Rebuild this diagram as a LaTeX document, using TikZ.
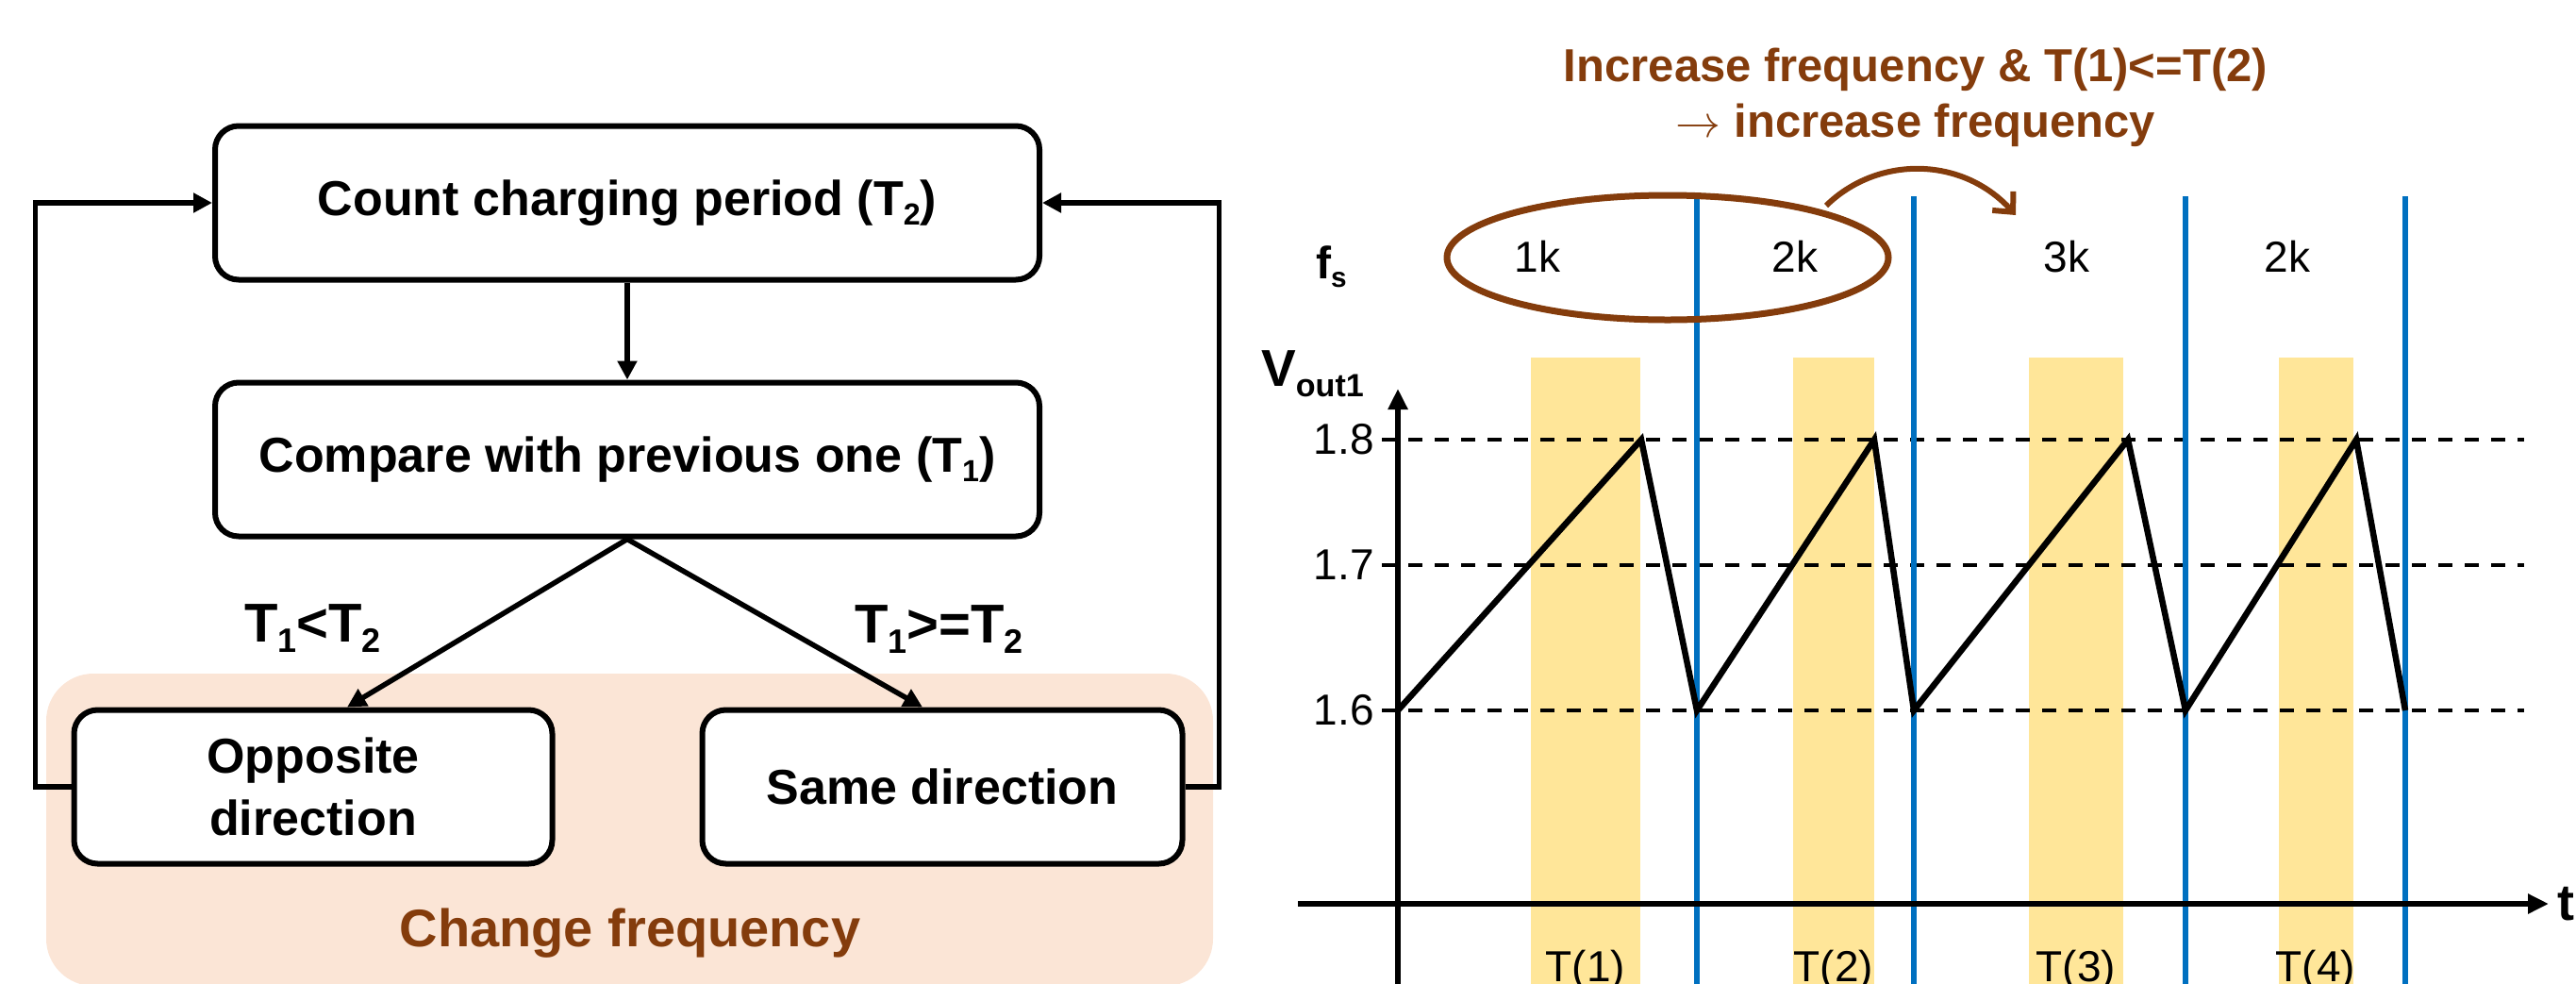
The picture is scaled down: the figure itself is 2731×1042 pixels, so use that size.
\documentclass[tikz,border=0pt]{standalone}
\usepackage{fontspec}
\usepackage{graphicx}
\setmainfont{Liberation Sans}
\usetikzlibrary{arrows.meta}
\definecolor{brownc}{HTML}{843C0C}
\definecolor{pinkc}{HTML}{FBE5D6}
\definecolor{goldc}{HTML}{FFE699}
\definecolor{bluec}{HTML}{0070C0}
\newcommand{\mysub}[1]{\raisebox{-0.2em}{\scalebox{0.62}{#1}}}
\newcommand{\bigarrow}{\scalebox{4.8}{\fontsize{10}{12}\selectfont$\rightarrow$}}
\begin{document}
\begin{tikzpicture}[x=1pt,y=-1pt,
  box/.style={draw, line width=6pt, rounded corners=25pt, fill=white, align=center,
    inner sep=0pt, minimum height=163pt, font=\fontsize{52}{66}\selectfont\bfseries},
  conn/.style={line width=5.5pt, -{Triangle[length=20pt,width=20pt]}},
  lbl/.style={font=\fontsize{58}{66}\selectfont\bfseries, anchor=base west, inner sep=0pt},
  num/.style={font=\fontsize{46}{54}\selectfont, inner sep=0pt},
  axis/.style={line width=6pt, -{Triangle[length=22pt,width=20pt]}},
  dashln/.style={line width=4pt, dash pattern=on 15pt off 13pt},
  blueln/.style={bluec, line width=6pt},
  ttl/.style={brownc, font=\fontsize{49}{59}\selectfont\bfseries, anchor=base, inner sep=0pt}
]
\useasboundingbox (0,0) rectangle (2731,1042);

% ---------- left: flowchart ----------
\fill[pinkc, rounded corners=50pt] (49,714) rectangle (1286,1045);
\node[brownc, font=\fontsize{56}{66}\selectfont\bfseries, anchor=base, inner sep=0pt] (chg) at (668,1003) {Change frequency};

\node[box, minimum width=874pt] (count) at (665,215) {Count charging period (T\mysub{2})};
\node[box, minimum width=874pt] (cmp) at (665,487) {Compare with previous one (T\mysub{1})};
\node[box, minimum width=507pt] (opp) at (332,834) {Opposite\\direction};
\node[box, minimum width=509pt] (same) at (999,834) {Same direction};

\draw[conn] (count) -- (cmp);
\draw[conn] (cmp.south) -- ([xshift=36pt]opp.north);
\draw[conn] (cmp.south) -- ([xshift=-21pt]same.north);
\draw[conn] (opp.west) -- ++(-38,0) |- (count.west);
\draw[conn] (same.east) -- ++(36,0) |- (count.east);

\node[lbl] (lt) at (259,680) {T\mysub{1}<T\mysub{2}};
\node[lbl] (ge) at (906,681) {T\mysub{1}>=T\mysub{2}};

% ---------- right: waveform ----------
\fill[goldc] (1623,379) rectangle (1739,1045);
\fill[goldc] (1901,379) rectangle (1987,1045);
\fill[goldc] (2151,379) rectangle (2251,1045);
\fill[goldc] (2416,379) rectangle (2495,1045);

\draw[dashln] (1465,466) -- (2676,466);
\draw[dashln] (1465,599) -- (2676,599);
\draw[dashln] (1465,753) -- (2676,753);

\draw[blueln] (1799,208) -- (1799,1045);
\draw[blueln] (2029,208) -- (2029,1045);
\draw[blueln] (2317,208) -- (2317,1045);
\draw[blueln] (2550,208) -- (2550,1045);

\draw[line width=6.5pt] (1482,753) -- (1740,466) -- (1799,753) -- (1987,466) -- (2029,753)
  -- (2256,466) -- (2317,753) -- (2498,466) -- (2550,753);

\draw[axis] (1482,1045) -- (1482,412);
\draw[axis] (1376,958) -- (2702,958);

\node[font=\fontsize{54}{60}\selectfont\bfseries, anchor=west, inner sep=0pt] (tl) at (2711,958) {t};
\node[font=\fontsize{55}{60}\selectfont\bfseries, anchor=base west, inner sep=0pt] (vl) at (1337,409) {V\mysub{out1}};
\node[font=\fontsize{48}{60}\selectfont\bfseries, anchor=base west, inner sep=0pt] (fl) at (1395,295) {f\mysub{s}};

\node[num, anchor=east] (v18) at (1457,466) {1.8};
\node[num, anchor=east] (v17) at (1457,599) {1.7};
\node[num, anchor=east] (v16) at (1457,753) {1.6};

\node[num] (f1) at (1630,272) {1k};
\node[num] (f2) at (1903,272) {2k};
\node[num] (f3) at (2191,272) {3k};
\node[num] (f4) at (2425,272) {2k};

\node[num, anchor=base] (t1) at (1681,1040) {T(1)};
\node[num, anchor=base] (t2) at (1944,1040) {T(2)};
\node[num, anchor=base] (t3) at (2201,1040) {T(3)};
\node[num, anchor=base] (t4) at (2455,1040) {T(4)};

\draw[brownc, line width=7pt] (1768,273) ellipse [x radius=234pt, y radius=66pt];
\draw[brownc, line width=6pt, -{Straight Barb[length=16pt,width=30pt]}]
  (1936,218) .. controls (1990,165) and (2080,165) .. (2137,228);

\node[ttl] (h1) at (2031,86) {Increase frequency \& T(1)<=T(2)};
\node[ttl] (h2) at (2031,145) {\bigarrow{} increase frequency};
\end{tikzpicture}
\end{document}
